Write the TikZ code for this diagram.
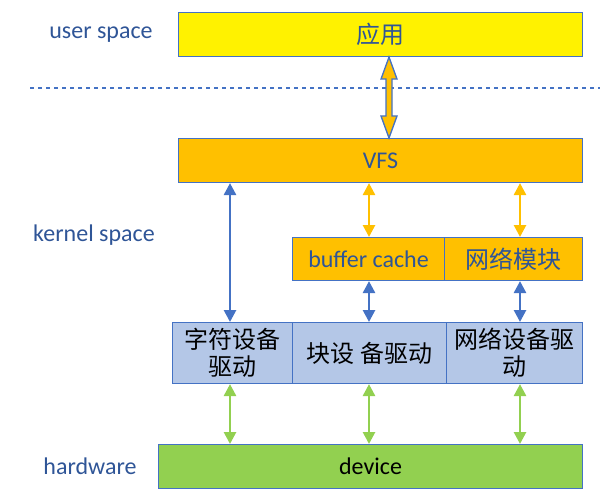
\documentclass[tikz,border=0pt]{standalone}
\usepackage{fontspec}
\setmainfont{Carlito}
\newfontfamily\cjk{Noto Sans CJK SC}
\usetikzlibrary{arrows.meta,calc}
\definecolor{hdrblue}{HTML}{2F5597}
\definecolor{lineblue}{HTML}{4472C4}
\definecolor{vfsorange}{HTML}{FFC000}
\definecolor{drvblue}{HTML}{B4C7E7}
\definecolor{devgreen}{HTML}{92D050}
\begin{document}
\begin{tikzpicture}[x=0.75pt,y=-0.75pt]
    \tikzstyle{box}=[draw=lineblue, line width=0.8pt, inner sep=0pt, anchor=north west,
        font=\fontsize{18}{20}\selectfont, text=hdrblue]
    \tikzstyle{lbl}=[font=\fontsize{18}{20}\selectfont, text=hdrblue]
    \tikzstyle{link}=[line width=2pt, {Triangle[length=9pt,width=9pt]}-{Triangle[length=9pt,width=9pt]}]
    \useasboundingbox (0,0) rectangle (609,502);
    % boxes
    \node[box, fill=yellow, minimum width=404*0.75pt, minimum height=44*0.75pt] (app) at (178,12) {\cjk 应用};
    \node[box, fill=vfsorange, minimum width=404*0.75pt, minimum height=44*0.75pt] (vfs) at (178,138) {VFS};
    \node[box, fill=vfsorange, minimum width=152*0.75pt, minimum height=43*0.75pt] (buf) at (292,237) {buffer cache};
    \node[box, fill=vfsorange, minimum width=138*0.75pt, minimum height=43*0.75pt] (net) at (444,237) {\cjk 网络模块};
    \node[box, fill=drvblue, text=black, minimum width=120*0.75pt, minimum height=61*0.75pt, align=center] (chr) at (172,322) {\cjk 字符设备\\\cjk 驱动};
    \node[box, fill=drvblue, text=black, minimum width=154*0.75pt, minimum height=61*0.75pt] (blk) at (292,322) {\cjk 块设 备驱动};
    \node[box, fill=drvblue, text=black, minimum width=136*0.75pt, minimum height=61*0.75pt, align=center] (ndrv) at (446,322) {\cjk 网络设备驱\\\cjk 动};
    \node[box, fill=devgreen, text=black, minimum width=424*0.75pt, minimum height=44*0.75pt] (dev) at (158,444) {device};
    % side labels
    \node[lbl] (us) at (101,35) {user space};
    \node[lbl] (ks) at (94,235) {kernel space};
    \node[lbl] (hw) at (90,466) {hardware};
    \draw[lineblue, line width=1.2pt, dash pattern=on 3pt off 3pt] (30,88) -- (600,88);
    % big arrow app <-> vfs
    \coordinate (t) at (app.south -| 389,0);
    \coordinate (b) at (vfs.north -| 389,0);
    \draw[lineblue, fill=vfsorange, line width=1pt] (t) -- ($(t)+(8,22)$) -- ($(t)+(3,22)$) -- ($(b)+(3,-22)$) -- ($(b)+(8,-22)$)
        -- (b) -- ($(b)+(-8,-22)$) -- ($(b)+(-3,-22)$) -- ($(t)+(-3,22)$) -- ($(t)+(-8,22)$) -- cycle;
    % links
    \draw[link, lineblue] (vfs.south -| 230,0) -- (chr.north -| 230,0);
    \draw[link, vfsorange] (vfs.south -| 369,0) -- (buf.north -| 369,0);
    \draw[link, vfsorange] (vfs.south -| 520,0) -- (net.north -| 520,0);
    \draw[link, lineblue] (buf.south -| 369,0) -- (blk.north -| 369,0);
    \draw[link, lineblue] (net.south -| 520,0) -- (ndrv.north -| 520,0);
    \draw[link, devgreen] (chr.south -| 230,0) -- (dev.north -| 230,0);
    \draw[link, devgreen] (blk.south -| 369,0) -- (dev.north -| 369,0);
    \draw[link, devgreen] (ndrv.south -| 520,0) -- (dev.north -| 520,0);
\end{tikzpicture}
\end{document}
